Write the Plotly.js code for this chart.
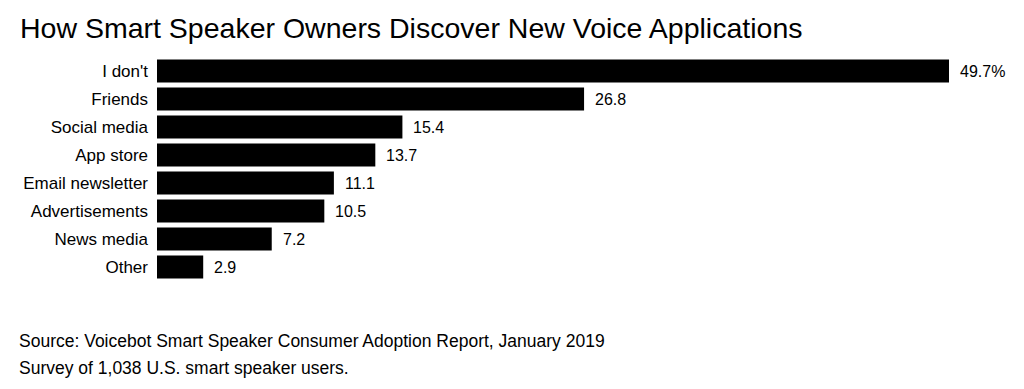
<!DOCTYPE html>
<html>
<head>
<meta charset="utf-8">
<script src="https://cdn.plot.ly/plotly-3.0.1.min.js"></script>
<style>html,body{margin:0;padding:0;background:#fff;}#chart{width:1024px;height:389px;}</style>
</head>
<body>
<div id="chart"></div>
<script>
var categories = ["I don't", "Friends", "Social media", "App store", "Email newsletter", "Advertisements", "News media", "Other"];
var values = [49.7, 26.8, 15.4, 13.7, 11.1, 10.5, 7.2, 2.9];
var valueLabels = ["49.7%", "26.8", "15.4", "13.7", "11.1", "10.5", "7.2", "2.9"];
var titleText = "How Smart Speaker Owners Discover New Voice Applications";
var sourceLines = ["Source: Voicebot Smart Speaker Consumer Adoption Report, January 2019", "Survey of 1,038 U.S. smart speaker users."];

var FONT = "Liberation Sans, Arial, Helvetica, sans-serif";

var trace = {
  type: 'bar',
  orientation: 'h',
  x: values,
  y: categories,
  marker: {color: '#000000', line: {width: 0}},
  hoverinfo: 'none'
};

var annotations = values.map(function(v, i) {
  return {
    x: v, y: categories[i], xref: 'x', yref: 'y',
    text: valueLabels[i], showarrow: false,
    xanchor: 'left', yanchor: 'middle', xshift: 9,
    font: {family: FONT, size: 16, color: '#000'}
  };
});
sourceLines.forEach(function(line, i) {
  annotations.push({
    xref: 'paper', yref: 'paper', x: -157/792, y: 0,
    text: line, showarrow: false,
    xanchor: 'left', yanchor: 'middle', xshift: 17, yshift: -60 - 27*i, align: 'left',
    font: {family: FONT, size: 17.5, color: '#000'}
  });
});

var layout = {
  width: 1024, height: 389,
  margin: {l: 157, r: 75, t: 57, b: 108},
  paper_bgcolor: '#fff', plot_bgcolor: '#fff',
  showlegend: false,
  bargap: 0.18,
  title: {
    text: titleText,
    x: 20/1024, xref: 'container', xanchor: 'left',
    y: 1 - 18/389, yref: 'container', yanchor: 'top',
    font: {family: FONT, size: 28.5, color: '#000'}
  },
  xaxis: {range: [0, 49.7], visible: false, fixedrange: true},
  yaxis: {
    autorange: 'reversed', showgrid: false, zeroline: false, showline: false,
    ticks: '', ticklabelstandoff: 8,
    tickfont: {family: FONT, size: 17, color: '#000'}
  },
  annotations: annotations
};

Plotly.newPlot('chart', [trace], layout, {displayModeBar: false, staticPlot: true});
</script>
</body>
</html>
